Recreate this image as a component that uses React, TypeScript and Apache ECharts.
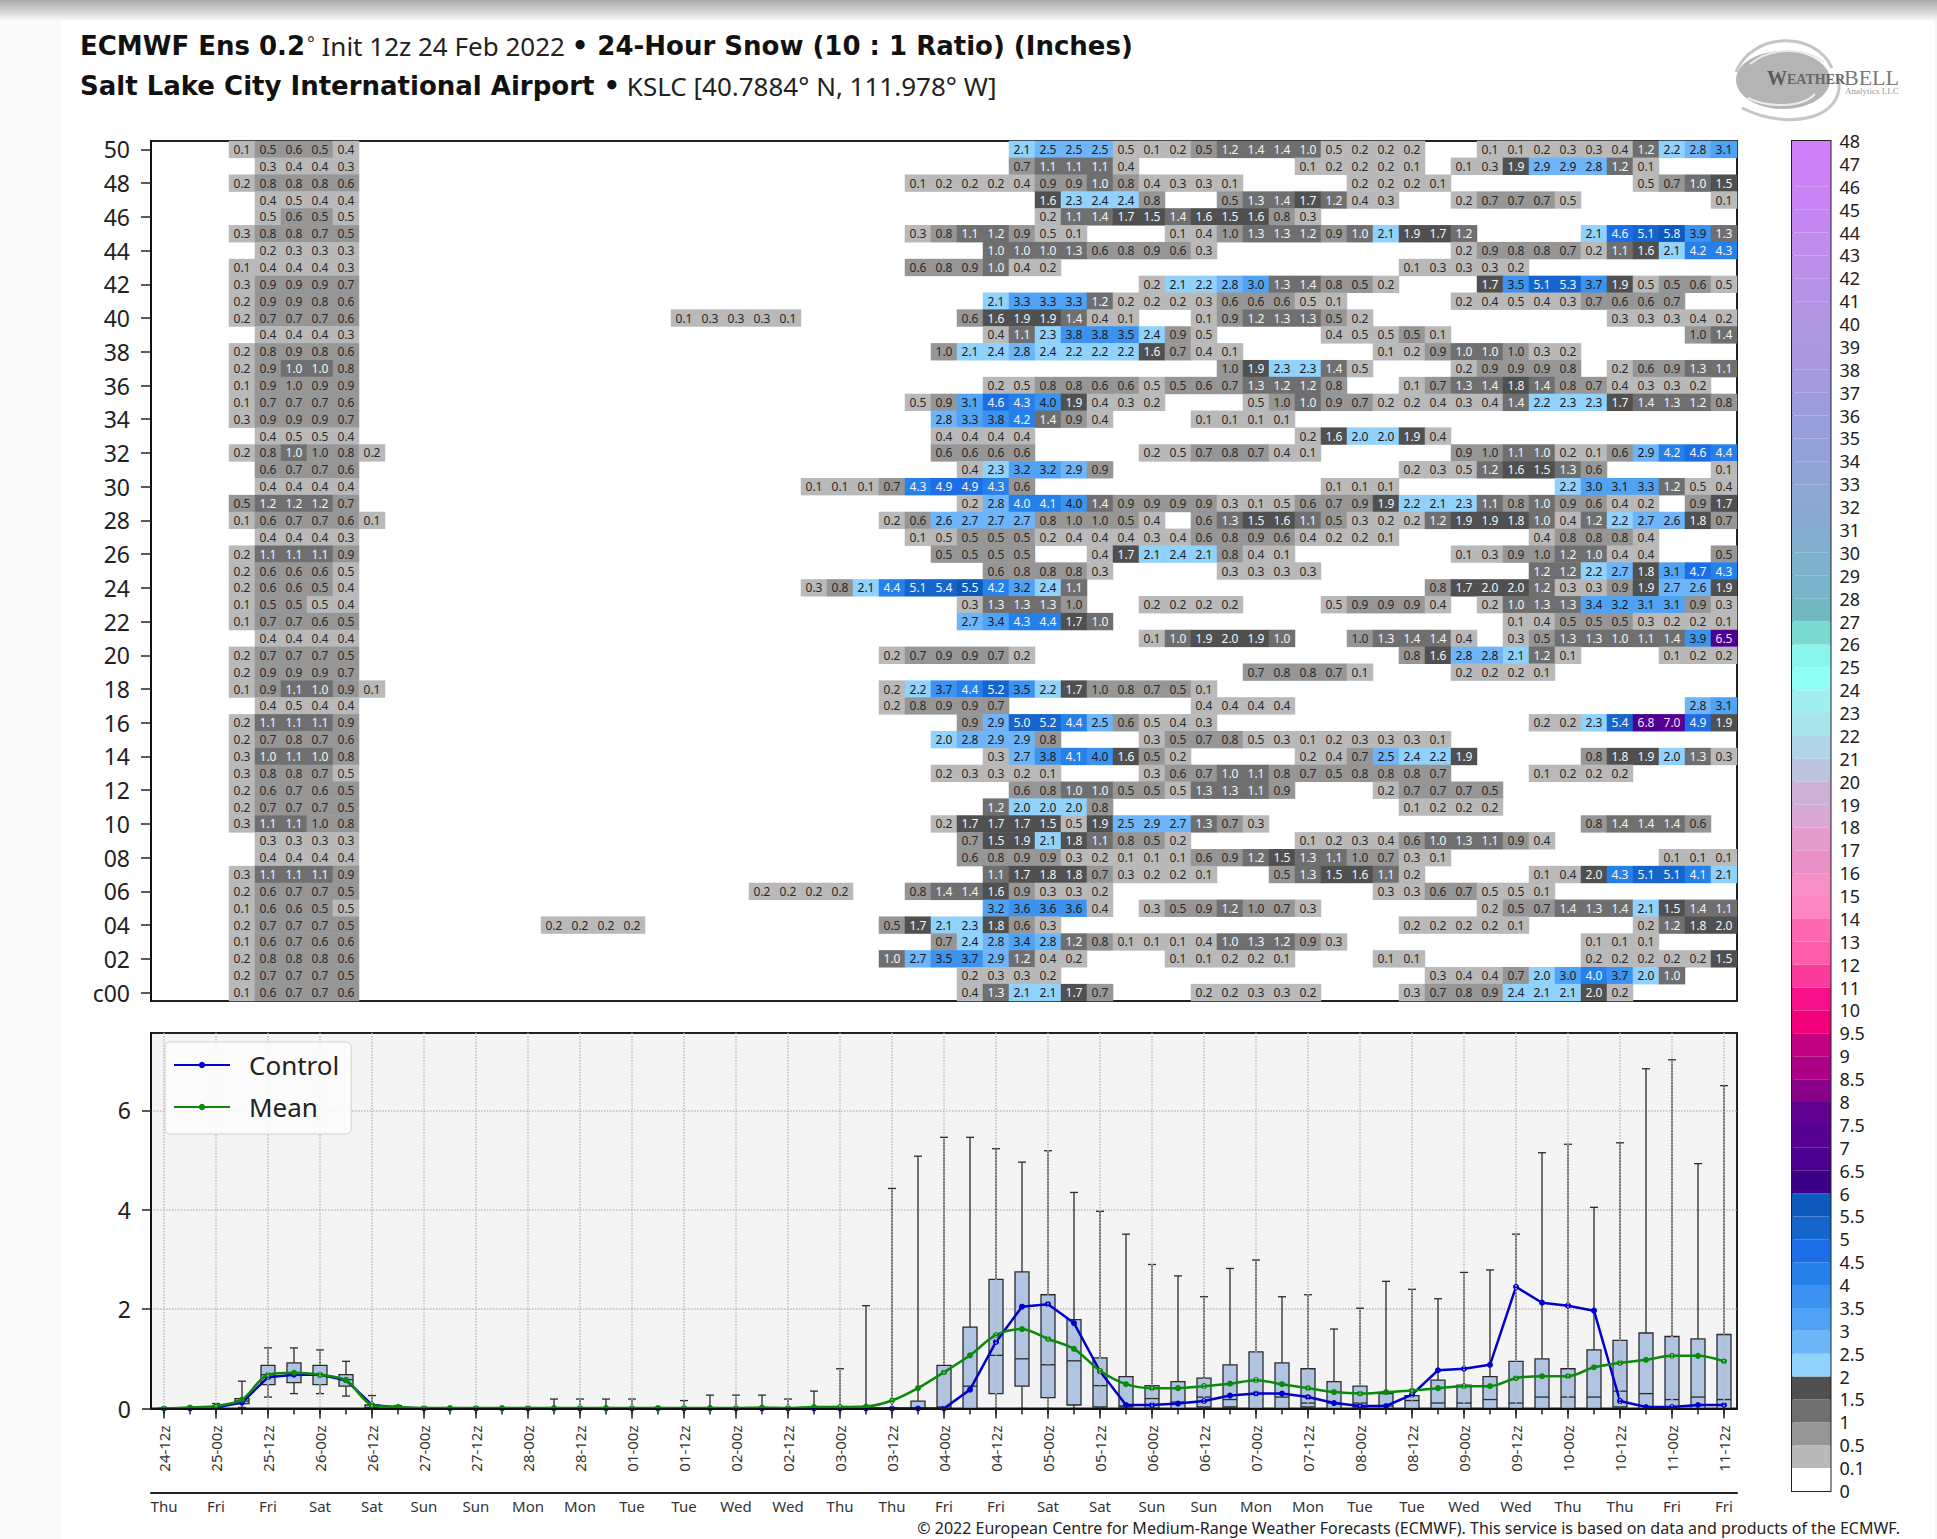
import React, { useEffect, useRef } from "react";
import * as echarts from "echarts";

const FONT = "Noto Sans";
const TITLE_BOLD = "DejaVu Sans";

// Ensemble members from the top row (50) to the bottom row (c00).
const memberLabels = ["c00","01","02","03","04","05","06","07","08","09","10","11","12","13","14","15","16","17","18","19","20","21","22","23","24","25","26","27","28","29","30","31","32","33","34","35","36","37","38","39","40","41","42","43","44","45","46","47","48","49","50"];

// Each row: list of runs [first step index, values...]
const memberRows: number[][][] = [
  [[3,.1,.5,.6,.5,.4],[33,2.1,2.5,2.5,2.5,.49,.1,.2,.5,1.2,1.4,1.4,1,.49,.2,.2,.2],[51,.1,.1,.2,.3,.3,.4,1.2,2.2,2.8,3.1]],
  [[4,.3,.4,.4,.3],[33,.7,1.1,1.1,1.1,.4],[44,.1,.2,.2,.2,.1],[50,.1,.3,1.9,2.9,2.9,2.8,1.2,.1]],
  [[3,.2,.8,.8,.8,.6],[29,.1,.2,.2,.2,.4,.9,.9,1,.8,.4,.3,.3,.1],[46,.2,.2,.2,.1],[57,.49,.7,1,1.5]],
  [[4,.4,.49,.4,.4],[34,1.6,2.3,2.4,2.4,.8],[41,.5,1.3,1.4,1.7,1.2,.4,.3],[50,.2,.7,.7,.7,.49],[60,.1]],
  [[4,.49,.6,.5,.49],[34,.2,1.1,1.4,1.7,1.5,1.4,1.6,1.5,1.6,.8,.3]],
  [[3,.3,.8,.8,.7,.5],[29,.3,.8,1.1,1.2,.9,.49,.1],[39,.1,.4,.98,1.3,1.3,1.2,.9,1,2.1,1.9,1.7,1.2],[55,2.1,4.6,5.1,5.8,3.9,1.3]],
  [[4,.2,.3,.3,.3],[32,1,1,1,1.3,.6,.8,.9,.6,.3],[50,.2,.9,.8,.8,.7,.2,1.1,1.6,2.1,4.2,4.3]],
  [[3,.1,.4,.4,.4,.3],[29,.6,.8,.9,1,.4,.2],[48,.1,.3,.3,.3,.2]],
  [[3,.3,.9,.9,.9,.7],[38,.2,2.1,2.2,2.8,3,1.3,1.4,.8,.5,.2],[51,1.7,3.5,5.1,5.3,3.7,1.9,.49,.5,.6,.49]],
  [[3,.2,.9,.9,.8,.6],[32,2.1,3.3,3.3,3.3,1.2,.2,.2,.2,.3,.6,.6,.6,.49,.1],[50,.2,.4,.49,.4,.3,.7,.6,.6,.7]],
  [[3,.2,.7,.7,.7,.6],[20,.1,.3,.3,.3,.1],[31,.6,1.6,1.9,1.9,1.4,.4,.1],[40,.1,.9,1.2,1.3,1.3,.5,.2],[56,.3,.3,.3,.4,.2]],
  [[4,.4,.4,.4,.3],[32,.4,1.1,2.3,3.8,3.8,3.5,2.4,.9,.49],[45,.4,.49,.49,.5,.1],[59,.98,1.4]],
  [[3,.2,.8,.9,.8,.6],[30,.98,2.1,2.4,2.8,2.4,2.2,2.2,2.2,1.6,.7,.4,.1],[47,.1,.2,.9,1,1,.98,.3,.2]],
  [[3,.2,.9,1,1,.8],[41,.98,1.9,2.3,2.3,1.4,.49],[50,.2,.9,.9,.9,.8],[56,.2,.6,.9,1.3,1.1]],
  [[3,.1,.9,.98,.9,.9],[32,.2,.49,.8,.8,.6,.6,.49,.5,.6,.7,1.3,1.2,1.2,.8],[48,.1,.7,1.3,1.4,1.8,1.4,.8,.7,.4,.3,.3,.2]],
  [[3,.1,.7,.7,.7,.6],[29,.49,.9,3.1,4.6,4.3,3.98,1.9,.4,.3,.2],[42,.49,.98,1,.9,.7,.2,.2,.4,.3,.4,1.4,2.2,2.3,2.3,1.7,1.4,1.3,1.2,.8]],
  [[3,.3,.9,.9,.9,.7],[30,2.8,3.3,3.8,4.2,1.4,.9,.4],[40,.1,.1,.1,.1]],
  [[4,.4,.49,.49,.4],[30,.4,.4,.4,.4],[44,.2,1.6,2,2,1.9,.4]],
  [[3,.2,.8,1,.98,.8,.2],[30,.6,.6,.6,.6],[38,.2,.49,.7,.8,.7,.4,.1],[50,.9,.98,1.1,1,.2,.1,.6,2.9,4.2,4.6,4.4]],
  [[4,.6,.7,.7,.6],[31,.4,2.3,3.2,3.2,2.9,.9],[48,.2,.3,.49,1.2,1.6,1.5,1.3,.6],[60,.1]],
  [[4,.4,.4,.4,.4],[25,.1,.1,.1,.7,4.3,4.9,4.9,4.3,.6],[45,.1,.1,.1],[54,2.2,3,3.1,3.3,1.2,.49,.4]],
  [[3,.5,1.2,1.2,1.2,.7],[31,.2,2.8,4.02,4.1,3.98,1.4,.9,.9,.9,.9,.3,.1,.49,.6,.7,.9,1.9,2.2,2.1,2.3,1.1,.8,1,.9,.6,.4,.2],[59,.9,1.7]],
  [[3,.1,.6,.7,.7,.6,.1],[28,.2,.6,2.6,2.7,2.7,2.7,.8,.98,.98,.5,.4],[40,.6,1.3,1.5,1.6,1.1,.5,.3,.2,.2,1.2,1.9,1.9,1.8,1,.4,1.2,2.2,2.7,2.6,1.8,.7]],
  [[4,.4,.4,.4,.3],[29,.1,.49,.5,.5,.5,.2,.4,.4,.4,.3,.4,.6,.8,.9,.6,.4,.2,.2,.1],[53,.4,.8,.8,.8,.4]],
  [[3,.2,1.1,1.1,1.1,.9],[30,.5,.5,.5,.5],[36,.4,1.7,2.1,2.4,2.1,.8,.4,.1],[50,.1,.3,.9,.98,1.2,1,.4,.4],[60,.5]],
  [[3,.2,.6,.6,.6,.49],[32,.6,.8,.8,.8,.3],[41,.3,.3,.3,.3],[53,1.2,1.2,2.2,2.7,1.8,3.1,4.7,4.3]],
  [[3,.2,.6,.6,.5,.4],[25,.3,.8,2.1,4.4,5.1,5.4,5.5,4.2,3.2,2.4,1.1],[49,.8,1.7,1.98,1.98,1.2,.3,.3,.9,1.9,2.7,2.6,1.9]],
  [[3,.1,.5,.5,.49,.4],[31,.3,1.3,1.3,1.3,.98],[38,.2,.2,.2,.2],[45,.49,.9,.9,.9,.4],[51,.2,1,1.3,1.3,3.4,3.2,3.1,3.1,.9,.3]],
  [[3,.1,.7,.7,.6,.5],[31,2.7,3.4,4.3,4.4,1.7,1],[52,.1,.4,.5,.5,.5,.3,.2,.2,.1]],
  [[4,.4,.4,.4,.4],[38,.1,1,1.9,1.98,1.9,1],[46,.98,1.3,1.4,1.4,.4],[52,.3,.5,1.3,1.3,1,1.1,1.4,3.9,6.5]],
  [[3,.2,.7,.7,.7,.5],[28,.2,.7,.9,.9,.7,.2],[48,.8,1.6,2.8,2.8,2.1,1.2,.1],[58,.1,.2,.2]],
  [[3,.2,.9,.9,.9,.7],[42,.7,.8,.8,.7,.1],[50,.2,.2,.2,.1]],
  [[3,.1,.9,1.1,1,.9,.1],[28,.2,2.2,3.7,4.4,5.2,3.5,2.2,1.7,.98,.8,.7,.5,.1]],
  [[4,.4,.49,.4,.4],[28,.2,.8,.9,.9,.7],[40,.4,.4,.4,.4],[59,2.8,3.1]],
  [[3,.2,1.1,1.1,1.1,.9],[31,.9,2.9,5,5.2,4.4,2.5,.6,.49,.4,.3],[53,.2,.2,2.3,5.4,6.8,7,4.9,1.9]],
  [[3,.2,.7,.8,.7,.6],[30,2,2.8,2.9,2.9,.8],[38,.3,.5,.7,.8,.49,.3,.1,.2,.3,.3,.3,.1]],
  [[3,.3,1,1.1,1,.8],[32,.3,2.7,3.8,4.1,3.98,1.6,.5,.2],[44,.2,.4,.7,2.5,2.4,2.2,1.9],[55,.8,1.8,1.9,2,1.3,.3]],
  [[3,.3,.8,.8,.7,.49],[30,.2,.3,.3,.2,.1],[38,.3,.6,.7,1,1.1,.8,.7,.5,.8,.8,.8,.7],[53,.1,.2,.2,.2]],
  [[3,.2,.6,.7,.6,.5],[33,.6,.8,1,1,.5,.5,.49,1.3,1.3,1.1,.9],[47,.2,.7,.7,.7,.5]],
  [[3,.2,.7,.7,.7,.5],[32,1.2,2,2,2,.8],[48,.1,.2,.2,.2]],
  [[3,.3,1.1,1.1,.98,.8],[30,.2,1.7,1.7,1.7,1.5,.49,1.9,2.5,2.9,2.7,1.3,.7,.3],[55,.8,1.4,1.4,1.4,.6]],
  [[4,.3,.3,.3,.3],[31,.7,1.5,1.9,2.1,1.8,1.1,.8,.5,.2],[44,.1,.2,.3,.4,.6,1,1.3,1.1,.9,.4]],
  [[4,.4,.4,.4,.4],[31,.6,.8,.9,.9,.3,.2,.1,.1,.1,.6,.9,1.2,1.5,1.3,1.1,.98,.7,.3,.1],[58,.1,.1,.1]],
  [[3,.3,1.1,1.1,1.1,.9],[32,1.1,1.7,1.8,1.8,.7,.3,.2,.2,.1],[43,.5,1.3,1.5,1.6,1.1,.2],[53,.1,.4,1.98,4.3,5.1,5.1,4.1,2.1]],
  [[3,.2,.6,.7,.7,.5],[23,.2,.2,.2,.2],[29,.8,1.4,1.4,1.6,.9,.3,.3,.2],[47,.3,.3,.6,.7,.49,.49,.1]],
  [[3,.1,.6,.6,.5,.49],[32,3.2,3.6,3.6,3.6,.4],[38,.3,.5,.9,1.2,.98,.7,.3],[51,.2,.5,.7,1.4,1.3,1.4,2.1,1.5,1.4,1.1]],
  [[3,.2,.7,.7,.7,.5],[15,.2,.2,.2,.2],[28,.5,1.7,2.1,2.3,1.8,.6,.3],[48,.2,.2,.2,.2,.1],[57,.2,1.2,1.8,1.98]],
  [[3,.1,.6,.7,.6,.6],[30,.7,2.4,2.8,3.4,2.8,1.2,.8,.1,.1,.1,.4,1,1.3,1.2,.9,.3],[55,.1,.1,.1]],
  [[3,.2,.8,.8,.8,.6],[28,1,2.7,3.5,3.7,2.9,1.2,.4,.2],[39,.1,.1,.2,.2,.1],[47,.1,.1],[55,.2,.2,.2,.2,.2,1.5]],
  [[3,.2,.7,.7,.7,.5],[31,.2,.3,.3,.2],[49,.3,.4,.4,.7,2,3,4.02,3.7,2,1]],
  [[3,.1,.6,.7,.7,.6],[31,.4,1.3,2.1,2.1,1.7,.7],[40,.2,.2,.3,.3,.2],[48,.3,.7,.8,.9,2.4,2.1,2.1,1.98,.2]],
];

const timeLabels = ["24-12z","24-18z","25-00z","25-06z","25-12z","25-18z","26-00z","26-06z","26-12z","26-18z","27-00z","27-06z","27-12z","27-18z","28-00z","28-06z","28-12z","28-18z","01-00z","01-06z","01-12z","01-18z","02-00z","02-06z","02-12z","02-18z","03-00z","03-06z","03-12z","03-18z","04-00z","04-06z","04-12z","04-18z","05-00z","05-06z","05-12z","05-18z","06-00z","06-06z","06-12z","06-18z","07-00z","07-06z","07-12z","07-18z","08-00z","08-06z","08-12z","08-18z","09-00z","09-06z","09-12z","09-18z","10-00z","10-06z","10-12z","10-18z","11-00z","11-06z","11-12z"];
const dayLabels = ["Thu","Thu","Fri","Fri","Fri","Fri","Sat","Sat","Sat","Sat","Sun","Sun","Sun","Sun","Mon","Mon","Mon","Mon","Tue","Tue","Tue","Tue","Wed","Wed","Wed","Wed","Thu","Thu","Thu","Thu","Fri","Fri","Fri","Fri","Sat","Sat","Sat","Sat","Sun","Sun","Sun","Sun","Mon","Mon","Mon","Mon","Tue","Tue","Tue","Tue","Wed","Wed","Wed","Wed","Thu","Thu","Thu","Thu","Fri","Fri","Fri"];

const boxMin = [0,0,0,.02,.23,.3,.3,.25,0,0,0,0,0,0,0,0,0,0,0,0,0,0,0,0,0,0,0,0,0,0,0,0,0,0,0,0,0,0,0,0,0,0,0,0,0,0,0,0,0,0,0,0,0,0,0,0,0,0,0,0,0];
const boxQ1 = [0,0,0,.1,.48,.52,.48,.45,0,0,0,0,0,0,0,0,0,0,0,0,0,0,0,0,0,0,0,0,0,0,0,0,.3,.45,.22,.07,.03,.03,.01,0,.03,.03,0,0,.03,0,.03,0,0,0,0,0,0,0,0,0,.03,0,0,0,0];
const boxMedian = [0,0,0,.15,.68,.7,.68,.58,.02,0,0,0,0,0,0,0,0,0,0,0,0,0,0,0,0,0,0,0,0,.01,.03,.45,1.07,1,.88,.96,.46,.05,.2,.13,.23,.18,.3,.23,.11,.11,.11,.05,.16,.11,.11,.18,.11,.23,.23,.23,.35,.3,.18,.23,.18];
const boxQ3 = [0,0,.01,.2,.87,.92,.87,.68,.07,0,0,0,0,0,0,0,0,0,0,0,0,0,0,0,0,0,0,0,0,.15,.87,1.64,2.6,2.75,2.29,1.79,1.02,.64,.46,.54,.61,.88,1.14,.92,.8,.54,.45,.3,.26,.57,.47,.64,.95,1,.8,1.18,1.37,1.52,1.45,1.4,1.49];
const boxMax = [0,.03,.1,.55,1.22,1.22,1.18,.95,.26,.06,.02,.01,.01,.01,.01,.19,.19,.19,.19,.02,.16,.27,.27,.27,.19,.35,.8,2.07,4.43,5.08,5.46,5.46,5.23,4.96,5.19,4.35,3.97,3.51,2.9,2.67,2.25,2.82,2.99,2.25,2.29,1.6,2.02,2.56,2.4,2.21,2.74,2.79,3.51,5.15,5.32,4.05,5.35,6.84,7.02,4.93,6.5];

const controlValues = [0,0,.02,.12,.63,.68,.68,.57,.07,.02,0,0,0,0,0,0,0,0,0,0,0,0,0,0,0,0,0,0,0,0,0,.38,1.34,2.05,2.1,1.72,.75,.07,.07,.1,.15,.26,.3,.3,.23,.11,.05,.05,.28,.77,.8,.88,2.45,2.13,2.07,1.97,.15,.03,.03,.07,.07];
const meanValues = [0,.02,.05,.18,.68,.72,.68,.57,.07,.03,.01,.01,.01,.01,.01,.01,.01,.01,.01,.01,.01,.01,.01,.02,.01,.03,.03,.04,.16,.41,.73,1.07,1.48,1.6,1.4,1.2,.76,.49,.41,.41,.45,.5,.57,.49,.41,.33,.3,.33,.36,.41,.45,.45,.61,.65,.65,.83,.92,.98,1.06,1.06,.95];

const levelEdges = [0,.1,.5,1,1.5,2,2.5,3,3.5,4,4.5,5,5.5,6,6.5,7,7.5,8,8.5,9,9.5,10,11,12,13,14,15,16,17,18,19,20,21,22,23,24,25,26,27,28,29,30,31,32,33,34,35,36,37,38,39,40,41,42,43,44,45,46,47,48];
const levelColors = ["#ffffff","#b9b9b9","#969696","#6f6f6f","#505050","#90d2fb","#6eb4f9","#50a3f4","#3b93ef","#2680ea","#1d6ee6","#1565cc","#0e5abc","#3c0088","#4b0090","#550090","#5e0090","#880088","#ac0086","#c0007e","#f2007a","#f8108a","#fc3a9c","#ff5cab","#ff68b0","#fc86c0","#f58fc4","#ea90c8","#e49ccc","#d8a8d4","#ceb0d6","#bcc4e0","#b0d4e8","#a8e4ec","#a0eef0","#8ffff4","#88f6ec","#7adad2","#70b9c2","#78b4ca","#7eb2cc","#84b0d0","#88aad2","#8ca8d4","#90a4d6","#94a0d8","#989edc","#9c9cdc","#a49ade","#aa98e0","#ae98e2","#b296e4","#b692e8","#bc90ea","#c08cee","#c488f2","#ca84f6","#cd82f8","#d080fa"];

const everyOther = (i: number) => i % 2 === 0;

function cellTextColor(v: number) {
  if (v < 1) return "#2a2a2a";
  if (v < 2) return "#f4f4f4";
  if (v < 4) return "#1a1a1a";
  if (v < 6) return "#f4f4f4";
  return "#ffd8ff";
}

function buildCells() {
  const cells: any[] = [];
  memberRows.forEach((runs, r) => {
    const row = memberRows.length - 1 - r;
    runs.forEach(([start, ...vals]) => {
      vals.forEach((v, k) => {
        cells.push({ value: [start + k, row, v], label: { color: cellTextColor(v) } });
      });
    });
  });
  return cells;
}

function renderBox(_p: any, api: any) {
  const i = api.value(0);
  const yOf = (d: number) => api.coord([i, api.value(d)])[1];
  const x = api.coord([i, 0])[0];
  const yMin = yOf(1), yQ1 = yOf(2), yMed = yOf(3), yQ3 = yOf(4), yMax = yOf(5);
  const stroke = { stroke: "#2b2b2b", lineWidth: 1.3, fill: "none" };
  const hw = 7, cap = 4;
  const ln = (x1: number, y1: number, x2: number, y2: number) => ({ type: "line", shape: { x1, y1, x2, y2 }, style: stroke });
  return {
    type: "group",
    children: [
      ln(x, yMax, x, yQ3),
      ln(x - cap, yMax, x + cap, yMax),
      ln(x, yQ1, x, yMin),
      ln(x - cap, yMin, x + cap, yMin),
      { type: "rect", shape: { x: x - hw, y: yQ3, width: hw * 2, height: yQ1 - yQ3 }, style: { fill: "#aec4e0", stroke: "#2b2b2b", lineWidth: 1.3 } },
      ln(x - hw, yMed, x + hw, yMed),
    ],
  };
}

const logoGraphic = {
  type: "group",
  silent: true,
  children: [
    { type: "ellipse", shape: { cx: 1783, cy: 80, rx: 47, ry: 29 }, style: { fill: "#b4b4b4" } },
    { type: "bezierCurve", shape: { x1: 1736, y1: 72, cpx1: 1752, cpy1: 32, cpx2: 1815, cpy2: 30, x2: 1832, y2: 68 }, style: { stroke: "#c4c4c4", lineWidth: 3, fill: "none" } },
    { type: "bezierCurve", shape: { x1: 1750, y1: 64, cpx1: 1772, cpy1: 46, cpx2: 1805, cpy2: 48, x2: 1824, y2: 62 }, style: { stroke: "#e8e8e8", lineWidth: 2, fill: "none" } },
    { type: "bezierCurve", shape: { x1: 1748, y1: 98, cpx1: 1768, cpy1: 108, cpx2: 1802, cpy2: 108, x2: 1815, y2: 94 }, style: { stroke: "#ececec", lineWidth: 2, fill: "none" } },
    { type: "bezierCurve", shape: { x1: 1742, y1: 108, cpx1: 1790, cpy1: 132, cpx2: 1848, cpy2: 118, x2: 1838, y2: 76 }, style: { stroke: "#c6c6c6", lineWidth: 3, fill: "none" } },
    { type: "text", x: 1767, y: 78, style: { text: "W", font: "bold 20px 'Liberation Serif'", fill: "#5a5a5a", textVerticalAlign: "middle" } },
    { type: "text", x: 1787, y: 79, style: { text: "EATHER", font: "bold 14px 'Liberation Serif'", fill: "#666", textVerticalAlign: "middle" } },
    { type: "text", x: 1844, y: 77, style: { text: "BELL", font: "22px 'Liberation Serif'", fill: "#7a7a7a", textVerticalAlign: "middle" } },
    { type: "text", x: 1845, y: 91, style: { text: "Analytics LLC", font: "9px 'Liberation Serif'", fill: "#999", textVerticalAlign: "middle" } },
  ],
};

const titleRich = {
  b: { fontSize: 26, fontWeight: "bold", color: "#111", fontFamily: TITLE_BOLD },
  n: { fontSize: 26, fontWeight: "normal", color: "#222", fontFamily: FONT },
  s: { fontSize: 18, fontWeight: "normal", color: "#333", fontFamily: FONT, padding: [0, 0, 6, 2] },
};

function buildOption() {
  const cats = timeLabels.map((_, i) => i);
  const hiddenX = { type: "category", data: timeLabels, boundaryGap: true };
  return {
    animation: false,
    textStyle: { fontFamily: FONT },
    title: [
      {
        left: 80, top: 33, padding: 0,
        text: "{b|ECMWF Ens 0.2}{s|°}{n| Init 12z 24 Feb 2022 }{b|• 24-Hour Snow (10 : 1 Ratio) (Inches)}",
        textStyle: { rich: titleRich },
      },
      {
        left: 80, top: 73, padding: 0,
        text: "{b|Salt Lake City International Airport }{b|•}{n| KSLC [40.7884° N, 111.978° W]}",
        textStyle: { rich: titleRich },
      },
    ],
    graphic: [
      logoGraphic,
      { type: "text", x: 1900, y: 1528, style: { text: "© 2022 European Centre for Medium-Range Weather Forecasts (ECMWF). This service is based on data and products of the ECMWF.", font: `16px '${FONT}'`, fill: "#222", textAlign: "right", textVerticalAlign: "middle" } },
    ],
    legend: {
      data: ["Control", "Mean"],
      orient: "vertical",
      left: 165, top: 1042,
      itemWidth: 56, itemHeight: 8, itemGap: 8,
      padding: [6, 12, 10, 8],
      backgroundColor: "rgba(252,252,252,0.9)",
      borderColor: "#d0d0d0", borderWidth: 1, borderRadius: 5,
      textStyle: { fontSize: 26, color: "#222", fontFamily: FONT, padding: [0, 0, 0, 14], lineHeight: 34 },
      z: 20,
    },
    visualMap: {
      type: "piecewise", show: false, seriesIndex: 0, dimension: 2,
      pieces: levelColors.map((color, i) => ({ gte: levelEdges[i], lt: levelEdges[i + 1], color })),
    },
    grid: [
      { left: 151, top: 141, width: 1586, height: 860, show: true, backgroundColor: "#fff", borderColor: "#222", borderWidth: 2, containLabel: false },
      { left: 151, top: 1033, width: 1586, height: 375.5, show: true, backgroundColor: "#f4f4f4", borderColor: "#222", borderWidth: 2 },
      { left: 1792, top: 141, width: 38.5, height: 1350, show: true, backgroundColor: "#fff", borderColor: "#222", borderWidth: 2 },
    ],
    xAxis: [
      { ...hiddenX, gridIndex: 0, axisLine: { show: false }, axisTick: { show: false }, axisLabel: { show: false }, splitLine: { show: false } },
      {
        ...hiddenX, gridIndex: 1, position: "bottom", z: 6,
        axisLine: { show: true, onZero: false, lineStyle: { color: "#111", width: 2 } },
        axisTick: { show: true, alignWithLabel: true, length: 10, interval: (i: number) => everyOther(i), lineStyle: { color: "#222", width: 1.5 } },
        axisLabel: { show: true, interval: (i: number) => everyOther(i), rotate: 90, margin: 17, fontSize: 15, color: "#333", fontFamily: FONT, hideOverlap: false },
        splitLine: { show: true, alignWithLabel: true, interval: (i: number) => everyOther(i), lineStyle: { type: "dotted", color: "#bcbcbc", width: 1.5 } },
      },
      {
        ...hiddenX, gridIndex: 1, position: "bottom",
        axisLine: { show: false, onZero: false },
        axisTick: { show: true, alignWithLabel: true, length: 6, interval: 0, lineStyle: { color: "#222", width: 1.5 } },
        axisLabel: { show: false }, splitLine: { show: false },
      },
      {
        type: "category", data: dayLabels, boundaryGap: true, gridIndex: 1, position: "bottom", offset: 84,
        axisLine: { show: true, onZero: false, lineStyle: { color: "#222", width: 2 } },
        axisTick: { show: false },
        axisLabel: { show: true, interval: (i: number) => everyOther(i), margin: 6, fontSize: 15, color: "#333", fontFamily: FONT, hideOverlap: false },
        splitLine: { show: false },
      },
      { type: "category", data: ["scale"], gridIndex: 2, axisLine: { show: false }, axisTick: { show: false }, axisLabel: { show: false }, splitLine: { show: false } },
    ],
    yAxis: [
      {
        type: "category", data: memberLabels, gridIndex: 0, boundaryGap: true, z: 6,
        axisLine: { show: true, onZero: false, lineStyle: { color: "#111", width: 2 } },
        axisTick: { show: true, alignWithLabel: true, length: 10, interval: (i: number) => everyOther(i), lineStyle: { color: "#222", width: 1.5 } },
        axisLabel: { show: true, interval: (i: number) => everyOther(i), margin: 21, fontSize: 23, color: "#222", fontFamily: FONT, hideOverlap: false },
        splitLine: { show: false },
      },
      {
        type: "value", gridIndex: 1, min: 0, max: 7.56, interval: 2,
        axisLine: { show: true, onZero: false, lineStyle: { color: "#111", width: 2 } },
        axisTick: { show: true, length: 9, customValues: [0, 2, 4, 6], lineStyle: { color: "#222", width: 1.5 } },
        axisLabel: { show: true, margin: 20, fontSize: 23, color: "#222", fontFamily: FONT, customValues: [0, 2, 4, 6] },
        splitLine: { show: true, lineStyle: { type: "dotted", color: "#bcbcbc", width: 1.5 } },
      },
      {
        type: "value", gridIndex: 2, position: "right", min: 0, max: levelColors.length, interval: 1,
        axisLine: { show: false }, axisTick: { show: false },
        axisLabel: { show: true, margin: 9, fontSize: 18, color: "#222", fontFamily: FONT, showMinLabel: true, showMaxLabel: true, formatter: (v: number) => String(levelEdges[Math.round(v)]) },
        splitLine: { show: false },
      },
    ],
    series: [
      {
        type: "heatmap", name: "24-hour snow", xAxisIndex: 0, yAxisIndex: 0,
        data: buildCells(),
        label: { show: true, fontSize: 12, fontFamily: FONT, color: "#2a2a2a", formatter: (p: any) => p.value[2].toFixed(1) },
        itemStyle: { borderWidth: 0 },
        emphasis: { disabled: true },
      },
      {
        type: "custom", name: "Members", xAxisIndex: 1, yAxisIndex: 1, z: 3,
        data: cats.map((i) => [i, boxMin[i], boxQ1[i], boxMedian[i], boxQ3[i], boxMax[i]]),
        encode: { x: 0, y: [1, 2, 3, 4, 5] },
        renderItem: renderBox,
      },
      {
        type: "line", name: "Control", xAxisIndex: 1, yAxisIndex: 1, z: 4, data: controlValues,
        symbol: "circle", symbolSize: 6, lineStyle: { color: "#0000cc", width: 2.5 }, itemStyle: { color: "#0000cc" },
      },
      {
        type: "line", name: "Mean", xAxisIndex: 1, yAxisIndex: 1, z: 5, data: meanValues, smooth: 0.3,
        symbol: "circle", symbolSize: 6, lineStyle: { color: "#0a8a0a", width: 2.5 }, itemStyle: { color: "#0a8a0a" },
      },
      ...levelColors.map((color, i) => ({
        type: "bar", name: `level ${levelEdges[i]}`, xAxisIndex: 4, yAxisIndex: 2, stack: "levels", barWidth: "100%",
        data: [1], itemStyle: { color }, silent: true,
      })),
    ],
  };
}

export default function App() {
  const ref = useRef<HTMLDivElement>(null);
  useEffect(() => {
    if (!ref.current) return;
    const chart = echarts.init(ref.current, undefined, { renderer: "svg" });
    chart.setOption(buildOption() as any);
    return () => chart.dispose();
  }, []);
  return (
    <div style={{ position: "absolute", left: 0, top: 0, width: 1937, height: 1539, overflow: "hidden", background: "#fff" }}>
      <div style={{ position: "absolute", left: 0, top: 0, width: 61, height: 1539, background: "#fafafa" }} />
      <div style={{ position: "absolute", left: 1935, top: 0, width: 2, height: 1539, background: "#f6f6f6" }} />
      <div style={{ position: "absolute", left: 0, top: 0, width: 1937, height: 20, background: "linear-gradient(#a9a9a9, #f6f6f6)" }} />
      <div ref={ref} style={{ position: "absolute", left: 0, top: 0, width: 1937, height: 1539 }} />
    </div>
  );
}
